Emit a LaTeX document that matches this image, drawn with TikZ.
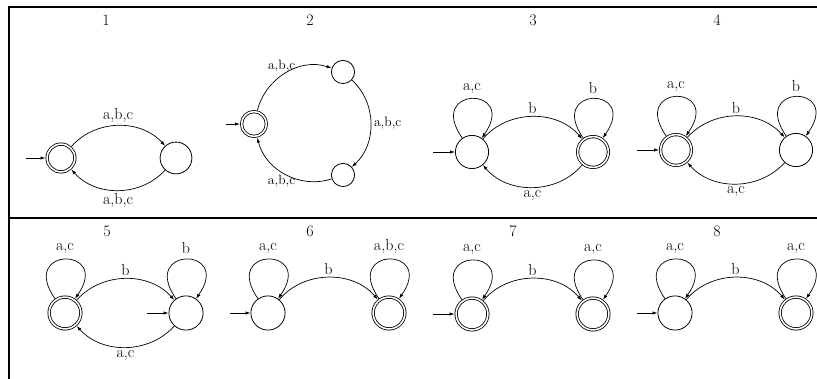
\documentclass[tikz,border=0pt]{standalone}
\usetikzlibrary{arrows.meta}
\begin{document}
\begin{tikzpicture}[x=1pt,y=1pt,
  every node/.style={font=\fontsize{16}{19}\selectfont},
  st/.style={circle,draw,line width=0.8pt,inner sep=0pt,outer sep=0.4pt,minimum size={2*#1pt-0.8pt}},
  acc/.style={circle,draw,line width=0.8pt,inner sep=0pt,double,double distance=1.6pt,outer sep=1.6pt,minimum size={2*#1pt-3.2pt}},
  tr/.style={line width=0.7pt,-{Latex[length=5pt,width=3.4pt]}},
  el/.style={inner sep=2.5pt},
  ll/.style={inner sep=5pt},
  sl/.style={inner sep=3pt,font=\fontsize{13.6}{16}\selectfont},
  rule/.style={line width=1.8pt},
  ttl/.style={inner sep=0pt},
  lp/.style={out=125,in=55,distance=64pt}
]
\useasboundingbox (0,0) rectangle (817,379);
% frame
\coordinate (fBL) at (9,0);
\coordinate (fTL) at (9,372);
\coordinate (fTR) at (817,372);
\coordinate (fML) at (9,161);
\coordinate (fMR) at (817,161);
\draw[rule] (fBL) -- (fTL) -- (fTR);
\draw[rule] (fML) -- (fMR);
% titles
\node[ttl] (t1) at (106,359) {1};
\node[ttl] (t2) at (310,359) {2};
\node[ttl] (t3) at (533,359) {3};
\node[ttl] (t4) at (717,359) {4};
\node[ttl] (t5) at (107,148) {5};
\node[ttl] (t6) at (310,148) {6};
\node[ttl] (t7) at (513,148) {7};
\node[ttl] (t8) at (717,148) {8};
% panel 1
\node[acc=15.5] (q0) at (61,221) {};
\node[st=16.3] (q1) at (176,221) {};
\coordinate (q0i) at (26,221);
\draw[tr] (q0i) -- (q0);
\draw[tr] (q0) to[bend left=48] node[above,el] {a,b,c} (q1);
\draw[tr] (q1) to[bend left=48] node[below,el] {a,b,c} (q0);
% panel 2
\node[acc=14] (p0) at (254,255) {};
\node[st=12] (p1) at (343,307) {};
\node[st=12] (p2) at (343,204) {};
\coordinate (p0i) at (226,255);
\draw[tr] (p0i) -- (p0);
\draw[tr] (p0) to[out=76,in=161.5] node[pos=0.45,above,sl] {a,b,c} (p1);
\draw[tr] (p1) to[out=-42.5,in=42.5] node[right,sl] {a,b,c} (p2);
\draw[tr] (p2) to[out=-161.5,in=-76.3] node[pos=0.55,below,sl] {a,b,c} (p0);
% panel 3
\node[st=17] (s0) at (472,227) {};
\node[acc=17] (s1) at (593,227) {};
\coordinate (s0i) at (433,227);
\draw[tr] (s0i) -- (s0);
\draw[tr] (s0) to[lp] node[above,ll] {a,c} (s0);
\draw[tr] (s1) to[lp] node[above,ll] {b} (s1);
\draw[tr] (s0) to[bend left=50] node[above,el] {b} (s1);
\draw[tr] (s1) to[bend left=50] node[below,el] {a,c} (s0);
% panel 4
\node[acc=17] (u0) at (676,229) {};
\node[st=17] (u1) at (796,229) {};
\coordinate (u0i) at (637,229);
\draw[tr] (u0i) -- (u0);
\draw[tr] (u0) to[lp] node[above,ll] {a,c} (u0);
\draw[tr] (u1) to[lp] node[above,ll] {b} (u1);
\draw[tr] (u0) to[bend left=48] node[above,el] {b} (u1);
\draw[tr] (u1) to[bend left=48] node[below,el] {a,c} (u0);
% panel 5
\node[acc=17.5] (v0) at (65,66) {};
\node[st=17.5] (v1) at (186,66) {};
\coordinate (v1i) at (147,66);
\draw[tr] (v1i) -- (v1);
\draw[tr] (v0) to[lp] node[above,ll] {a,c} (v0);
\draw[tr] (v1) to[lp] node[above,ll] {b} (v1);
\draw[tr] (v0) to[bend left=48] node[above,el] {b} (v1);
\draw[tr] (v1) to[bend left=48] node[below,el] {a,c} (v0);
% panel 6
\node[st=17.5] (w0) at (268,66) {};
\node[acc=17.5] (w1) at (389,66) {};
\coordinate (w0i) at (230,66);
\draw[tr] (w0i) -- (w0);
\draw[tr] (w0) to[lp] node[above,ll] {a,c} (w0);
\draw[tr] (w1) to[lp] node[above,ll] {a,b,c} (w1);
\draw[tr] (w0) to[bend left=50] node[above,el] {b} (w1);
% panel 7
\node[acc=17.5] (x0) at (472,65) {};
\node[acc=17.5] (x1) at (593,65) {};
\coordinate (x0i) at (433,65);
\draw[tr] (x0i) -- (x0);
\draw[tr] (x0) to[lp] node[above,ll] {a,c} (x0);
\draw[tr] (x1) to[lp] node[above,ll] {a,c} (x1);
\draw[tr] (x0) to[bend left=50] node[above,el] {b} (x1);
% panel 8
\node[st=17.5] (y0) at (675,66) {};
\node[acc=17.5] (y1) at (796,66) {};
\coordinate (y0i) at (637,66);
\draw[tr] (y0i) -- (y0);
\draw[tr] (y0) to[lp] node[above,ll] {a,c} (y0);
\draw[tr] (y1) to[lp] node[above,ll] {a,c} (y1);
\draw[tr] (y0) to[bend left=50] node[above,el] {b} (y1);
\end{tikzpicture}
\end{document}
